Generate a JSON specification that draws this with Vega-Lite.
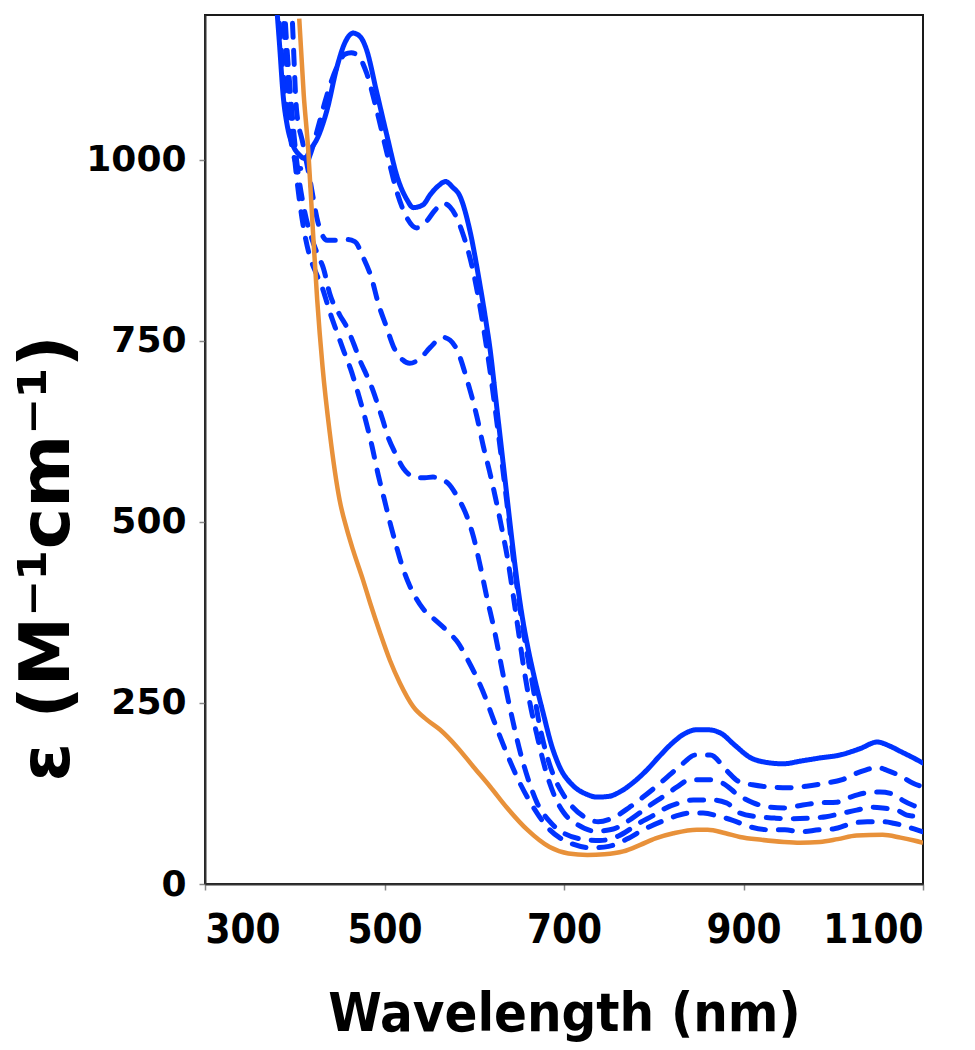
{
  "$schema": "https://vega.github.io/schema/vega-lite/v6.json",
  "width": 718,
  "height": 869,
  "autosize": {"type": "none"},
  "padding": {"left": 205, "top": 15, "right": 52, "bottom": 166},
  "background": "white",
  "config": {
    "view": {"stroke": "#1a1a1a", "strokeWidth": 2},
    "axis": {
      "grid": false,
      "domainColor": "#333333",
      "domainWidth": 2,
      "tickColor": "#888888",
      "tickSize": 6,
      "tickWidth": 1.5,
      "labelColor": "black",
      "titleColor": "black",
      "labelFontWeight": "bold",
      "titleFontWeight": "bold"
    }
  },
  "datasets": {
    "curves": [
      {"s":"S","nm":370,"e":1350},{"s":"S","nm":378,"e":1240},{"s":"S","nm":383,"e":1160},{"s":"S","nm":387,"e":1090},{"s":"S","nm":392,"e":1045},{"s":"S","nm":398,"e":1020},{"s":"S","nm":405,"e":1007},{"s":"S","nm":411,"e":1002},{"s":"S","nm":418,"e":1015},{"s":"S","nm":426,"e":1032},{"s":"S","nm":436,"e":1069},{"s":"S","nm":447,"e":1128},{"s":"S","nm":456,"e":1162},{"s":"S","nm":465,"e":1175},{"s":"S","nm":473,"e":1170},{"s":"S","nm":480,"e":1152},{"s":"S","nm":491,"e":1095},{"s":"S","nm":503,"e":1032},{"s":"S","nm":514,"e":977},{"s":"S","nm":525,"e":945},{"s":"S","nm":532,"e":934},{"s":"S","nm":543,"e":938},{"s":"S","nm":551,"e":952},{"s":"S","nm":560,"e":964},{"s":"S","nm":568,"e":970},{"s":"S","nm":576,"e":962},{"s":"S","nm":584,"e":950},{"s":"S","nm":595,"e":903},{"s":"S","nm":606,"e":830},{"s":"S","nm":612,"e":785},{"s":"S","nm":618,"e":735},{"s":"S","nm":624,"e":670},{"s":"S","nm":630,"e":605},{"s":"S","nm":636,"e":540},{"s":"S","nm":642,"e":475},{"s":"S","nm":648,"e":415},{"s":"S","nm":654,"e":365},{"s":"S","nm":660,"e":325},{"s":"S","nm":667,"e":285},{"s":"S","nm":677,"e":235},{"s":"S","nm":686,"e":192},{"s":"S","nm":695,"e":162},{"s":"S","nm":710,"e":136},{"s":"S","nm":725,"e":124},{"s":"S","nm":737,"e":120},{"s":"S","nm":750,"e":121},{"s":"S","nm":762,"e":127},{"s":"S","nm":777,"e":140},{"s":"S","nm":792,"e":157},{"s":"S","nm":806,"e":176},{"s":"S","nm":821,"e":195},{"s":"S","nm":835,"e":208},{"s":"S","nm":848,"e":213},{"s":"S","nm":860,"e":213},{"s":"S","nm":875,"e":208},{"s":"S","nm":890,"e":192},{"s":"S","nm":907,"e":175},{"s":"S","nm":925,"e":168},{"s":"S","nm":944,"e":166},{"s":"S","nm":965,"e":170},{"s":"S","nm":985,"e":174},{"s":"S","nm":1007,"e":178},{"s":"S","nm":1030,"e":187},{"s":"S","nm":1049,"e":196},{"s":"S","nm":1062,"e":191},{"s":"S","nm":1075,"e":183},{"s":"S","nm":1088,"e":175},{"s":"S","nm":1100,"e":167},

      {"s":"D1","nm":376,"e":1300},{"s":"D1","nm":382,"e":1200},{"s":"D1","nm":387,"e":1120},{"s":"D1","nm":393,"e":1050},{"s":"D1","nm":399,"e":1005},{"s":"D1","nm":405,"e":988},{"s":"D1","nm":411,"e":990},{"s":"D1","nm":418,"e":1010},{"s":"D1","nm":426,"e":1045},{"s":"D1","nm":436,"e":1090},{"s":"D1","nm":447,"e":1128},{"s":"D1","nm":456,"e":1146},{"s":"D1","nm":463,"e":1148},{"s":"D1","nm":471,"e":1143},{"s":"D1","nm":480,"e":1120},{"s":"D1","nm":491,"e":1070},{"s":"D1","nm":503,"e":1008},{"s":"D1","nm":514,"e":955},{"s":"D1","nm":525,"e":920},{"s":"D1","nm":536,"e":906},{"s":"D1","nm":546,"e":914},{"s":"D1","nm":556,"e":930},{"s":"D1","nm":565,"e":940},{"s":"D1","nm":573,"e":935},{"s":"D1","nm":587,"e":899},{"s":"D1","nm":599,"e":845},{"s":"D1","nm":606,"e":800},{"s":"D1","nm":612,"e":755},{"s":"D1","nm":618,"e":705},{"s":"D1","nm":626,"e":630},{"s":"D1","nm":636,"e":530},{"s":"D1","nm":643,"e":455},{"s":"D1","nm":654,"e":355},{"s":"D1","nm":665,"e":275},{"s":"D1","nm":673,"e":218},{"s":"D1","nm":681,"e":177},{"s":"D1","nm":690,"e":145},{"s":"D1","nm":699,"e":124},{"s":"D1","nm":707,"e":110},{"s":"D1","nm":721,"e":94},{"s":"D1","nm":738,"e":86},{"s":"D1","nm":757,"e":93},{"s":"D1","nm":772,"e":105},{"s":"D1","nm":787,"e":119},{"s":"D1","nm":803,"e":135},{"s":"D1","nm":818,"e":151},{"s":"D1","nm":833,"e":167},{"s":"D1","nm":846,"e":178},{"s":"D1","nm":863,"e":178},{"s":"D1","nm":881,"e":157},{"s":"D1","nm":894,"e":142},{"s":"D1","nm":910,"e":137},{"s":"D1","nm":930,"e":134},{"s":"D1","nm":950,"e":133},{"s":"D1","nm":970,"e":135},{"s":"D1","nm":990,"e":139},{"s":"D1","nm":1010,"e":144},{"s":"D1","nm":1024,"e":152},{"s":"D1","nm":1035,"e":157},{"s":"D1","nm":1049,"e":161},{"s":"D1","nm":1060,"e":157},{"s":"D1","nm":1075,"e":149},{"s":"D1","nm":1089,"e":139},{"s":"D1","nm":1100,"e":134},

      {"s":"D2","nm":392,"e":1300},{"s":"D2","nm":397,"e":1200},{"s":"D2","nm":402,"e":1069},{"s":"D2","nm":409,"e":1023},{"s":"D2","nm":417,"e":972},{"s":"D2","nm":426,"e":913},{"s":"D2","nm":436,"e":889},{"s":"D2","nm":447,"e":889},{"s":"D2","nm":458,"e":890},{"s":"D2","nm":467,"e":887},{"s":"D2","nm":476,"e":866},{"s":"D2","nm":486,"e":835},{"s":"D2","nm":493,"e":802},{"s":"D2","nm":502,"e":770},{"s":"D2","nm":510,"e":742},{"s":"D2","nm":520,"e":724},{"s":"D2","nm":528,"e":719},{"s":"D2","nm":540,"e":726},{"s":"D2","nm":551,"e":741},{"s":"D2","nm":565,"e":755},{"s":"D2","nm":573,"e":751},{"s":"D2","nm":581,"e":737},{"s":"D2","nm":592,"e":696},{"s":"D2","nm":603,"e":645},{"s":"D2","nm":610,"e":605},{"s":"D2","nm":617,"e":570},{"s":"D2","nm":623,"e":537},{"s":"D2","nm":631,"e":489},{"s":"D2","nm":638,"e":443},{"s":"D2","nm":643,"e":402},{"s":"D2","nm":649,"e":351},{"s":"D2","nm":655,"e":300},{"s":"D2","nm":662,"e":250},{"s":"D2","nm":670,"e":205},{"s":"D2","nm":680,"e":155},{"s":"D2","nm":690,"e":120},{"s":"D2","nm":700,"e":98},{"s":"D2","nm":715,"e":82},{"s":"D2","nm":735,"e":73},{"s":"D2","nm":755,"e":76},{"s":"D2","nm":775,"e":90},{"s":"D2","nm":795,"e":108},{"s":"D2","nm":812,"e":122},{"s":"D2","nm":826,"e":134},{"s":"D2","nm":840,"e":144},{"s":"D2","nm":860,"e":144},{"s":"D2","nm":877,"e":139},{"s":"D2","nm":894,"e":123},{"s":"D2","nm":911,"e":112},{"s":"D2","nm":930,"e":106},{"s":"D2","nm":946,"e":105},{"s":"D2","nm":966,"e":109},{"s":"D2","nm":983,"e":112},{"s":"D2","nm":1004,"e":113},{"s":"D2","nm":1019,"e":120},{"s":"D2","nm":1038,"e":126},{"s":"D2","nm":1052,"e":127},{"s":"D2","nm":1069,"e":123},{"s":"D2","nm":1078,"e":115},{"s":"D2","nm":1090,"e":108},{"s":"D2","nm":1100,"e":104},

      {"s":"D3","nm":385,"e":1300},{"s":"D3","nm":390,"e":1180},{"s":"D3","nm":396,"e":1080},{"s":"D3","nm":402,"e":1000},{"s":"D3","nm":410,"e":935},{"s":"D3","nm":418,"e":895},{"s":"D3","nm":426,"e":868},{"s":"D3","nm":432,"e":850},{"s":"D3","nm":439,"e":815},{"s":"D3","nm":450,"e":786},{"s":"D3","nm":458,"e":769},{"s":"D3","nm":466,"e":745},{"s":"D3","nm":473,"e":722},{"s":"D3","nm":480,"e":703},{"s":"D3","nm":487,"e":682},{"s":"D3","nm":493,"e":660},{"s":"D3","nm":498,"e":641},{"s":"D3","nm":504,"e":617},{"s":"D3","nm":512,"e":595},{"s":"D3","nm":521,"e":574},{"s":"D3","nm":529,"e":564},{"s":"D3","nm":536,"e":561},{"s":"D3","nm":545,"e":561},{"s":"D3","nm":554,"e":562},{"s":"D3","nm":563,"e":559},{"s":"D3","nm":571,"e":553},{"s":"D3","nm":581,"e":535},{"s":"D3","nm":592,"e":507},{"s":"D3","nm":599,"e":480},{"s":"D3","nm":606,"e":443},{"s":"D3","nm":614,"e":396},{"s":"D3","nm":623,"e":347},{"s":"D3","nm":629,"e":309},{"s":"D3","nm":636,"e":265},{"s":"D3","nm":643,"e":225},{"s":"D3","nm":650,"e":188},{"s":"D3","nm":660,"e":145},{"s":"D3","nm":670,"e":112},{"s":"D3","nm":685,"e":85},{"s":"D3","nm":700,"e":70},{"s":"D3","nm":720,"e":62},{"s":"D3","nm":740,"e":60},{"s":"D3","nm":760,"e":66},{"s":"D3","nm":785,"e":85},{"s":"D3","nm":800,"e":95},{"s":"D3","nm":812,"e":104},{"s":"D3","nm":829,"e":112},{"s":"D3","nm":844,"e":116},{"s":"D3","nm":865,"e":116},{"s":"D3","nm":881,"e":112},{"s":"D3","nm":896,"e":98},{"s":"D3","nm":915,"e":93},{"s":"D3","nm":935,"e":91},{"s":"D3","nm":955,"e":90},{"s":"D3","nm":975,"e":91},{"s":"D3","nm":992,"e":93},{"s":"D3","nm":1011,"e":98},{"s":"D3","nm":1026,"e":102},{"s":"D3","nm":1043,"e":106},{"s":"D3","nm":1055,"e":105},{"s":"D3","nm":1071,"e":102},{"s":"D3","nm":1082,"e":95},{"s":"D3","nm":1093,"e":93},{"s":"D3","nm":1100,"e":88},

      {"s":"D4","nm":382,"e":1300},{"s":"D4","nm":387,"e":1200},{"s":"D4","nm":393,"e":1100},{"s":"D4","nm":400,"e":1000},{"s":"D4","nm":408,"e":920},{"s":"D4","nm":416,"e":870},{"s":"D4","nm":425,"e":840},{"s":"D4","nm":431,"e":822},{"s":"D4","nm":439,"e":790},{"s":"D4","nm":447,"e":762},{"s":"D4","nm":454,"e":738},{"s":"D4","nm":462,"e":712},{"s":"D4","nm":470,"e":680},{"s":"D4","nm":478,"e":645},{"s":"D4","nm":486,"e":605},{"s":"D4","nm":493,"e":565},{"s":"D4","nm":500,"e":530},{"s":"D4","nm":507,"e":495},{"s":"D4","nm":514,"e":463},{"s":"D4","nm":520,"e":438},{"s":"D4","nm":527,"e":415},{"s":"D4","nm":535,"e":395},{"s":"D4","nm":543,"e":380},{"s":"D4","nm":556,"e":365},{"s":"D4","nm":571,"e":348},{"s":"D4","nm":582,"e":333},{"s":"D4","nm":593,"e":309},{"s":"D4","nm":609,"e":268},{"s":"D4","nm":623,"e":222},{"s":"D4","nm":636,"e":181},{"s":"D4","nm":651,"e":139},{"s":"D4","nm":670,"e":98},{"s":"D4","nm":681,"e":79},{"s":"D4","nm":695,"e":64},{"s":"D4","nm":710,"e":55},{"s":"D4","nm":730,"e":50},{"s":"D4","nm":750,"e":52},{"s":"D4","nm":770,"e":62},{"s":"D4","nm":790,"e":76},{"s":"D4","nm":810,"e":87},{"s":"D4","nm":825,"e":94},{"s":"D4","nm":840,"e":98},{"s":"D4","nm":855,"e":98},{"s":"D4","nm":874,"e":93},{"s":"D4","nm":888,"e":88},{"s":"D4","nm":907,"e":79},{"s":"D4","nm":927,"e":75},{"s":"D4","nm":946,"e":75},{"s":"D4","nm":963,"e":72},{"s":"D4","nm":985,"e":75},{"s":"D4","nm":1000,"e":76},{"s":"D4","nm":1022,"e":84},{"s":"D4","nm":1038,"e":86},{"s":"D4","nm":1055,"e":86},{"s":"D4","nm":1067,"e":84},{"s":"D4","nm":1080,"e":80},{"s":"D4","nm":1090,"e":76},{"s":"D4","nm":1100,"e":72},

      {"s":"O","nm":405,"e":1195},{"s":"O","nm":410,"e":1090},{"s":"O","nm":415,"e":1014},{"s":"O","nm":420,"e":907},{"s":"O","nm":425,"e":807},{"s":"O","nm":431,"e":714},{"s":"O","nm":439,"e":623},{"s":"O","nm":450,"e":530},{"s":"O","nm":458,"e":490},{"s":"O","nm":465,"e":461},{"s":"O","nm":476,"e":420},{"s":"O","nm":484,"e":388},{"s":"O","nm":495,"e":347},{"s":"O","nm":506,"e":309},{"s":"O","nm":517,"e":278},{"s":"O","nm":532,"e":245},{"s":"O","nm":547,"e":227},{"s":"O","nm":562,"e":213},{"s":"O","nm":581,"e":189},{"s":"O","nm":599,"e":162},{"s":"O","nm":618,"e":134},{"s":"O","nm":636,"e":106},{"s":"O","nm":659,"e":75},{"s":"O","nm":684,"e":51},{"s":"O","nm":705,"e":42},{"s":"O","nm":726,"e":40},{"s":"O","nm":745,"e":41},{"s":"O","nm":766,"e":45},{"s":"O","nm":785,"e":54},{"s":"O","nm":802,"e":63},{"s":"O","nm":822,"e":70},{"s":"O","nm":848,"e":75},{"s":"O","nm":860,"e":75},{"s":"O","nm":880,"e":70},{"s":"O","nm":896,"e":65},{"s":"O","nm":920,"e":61},{"s":"O","nm":945,"e":58},{"s":"O","nm":963,"e":57},{"s":"O","nm":985,"e":58},{"s":"O","nm":1005,"e":62},{"s":"O","nm":1026,"e":67},{"s":"O","nm":1055,"e":68},{"s":"O","nm":1075,"e":64},{"s":"O","nm":1090,"e":60},{"s":"O","nm":1100,"e":57}
    ]
  },
  "data": {"name": "curves"},
  "encoding": {
    "x": {
      "field": "nm",
      "type": "quantitative",
      "scale": {"domain": [300, 1100], "nice": false, "zero": false},
      "axis": {
        "values": [300, 500, 700, 900, 1100],
        "format": "d",
        "title": "Wavelength (nm)",
        "labelFont": "DejaVu Sans Condensed, Liberation Sans",
        "labelFontSize": 40,
        "labelPadding": 20,
        "titleFont": "DejaVu Sans Condensed, Liberation Sans",
        "titleFontSize": 54,
        "titleX": 359,
        "titleY": 146,
        "titleAlign": "center",
        "titleBaseline": "alphabetic"
      }
    },
    "y": {
      "field": "e",
      "type": "quantitative",
      "scale": {"domain": [0, 1200], "nice": false},
      "axis": {
        "values": [0, 250, 500, 750, 1000],
        "format": "d",
        "title": "ε (M⁻¹cm⁻¹)",
        "labelFont": "DejaVu Sans",
        "labelFontSize": 36,
        "labelPadding": 13,
        "titleFont": "DejaVu Sans",
        "titleFontSize": 70,
        "titleAngle": -90,
        "titleX": -158,
        "titleY": 543,
        "titleAlign": "center",
        "titleBaseline": "middle"
      }
    }
  },
  "layer": [
    {
      "transform": [{"filter": "datum.s !== 'O'"}],
      "mark": {"type": "line", "clip": true, "strokeWidth": 5, "strokeCap": "round", "color": "#0033ff", "interpolate": "monotone"},
      "encoding": {
        "detail": {"field": "s"},
        "strokeDash": {
          "field": "s",
          "type": "nominal",
          "scale": {"domain": ["S", "D1", "D2", "D3", "D4"], "range": [[1, 0], [14, 13], [14, 13], [14, 13], [14, 13]]},
          "legend": null
        }
      }
    },
    {
      "transform": [{"filter": "datum.s === 'O'"}],
      "mark": {"type": "line", "clip": true, "strokeWidth": 4.5, "color": "#e8913a", "interpolate": "monotone"},
      "encoding": {}
    }
  ]
}
